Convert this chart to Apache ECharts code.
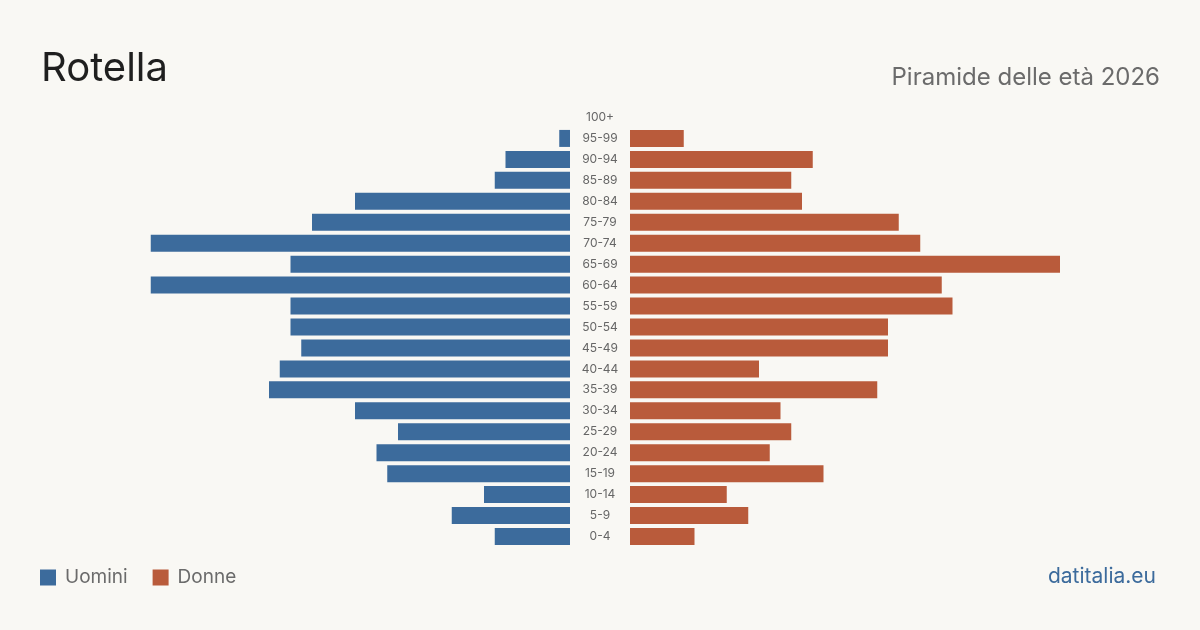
<!DOCTYPE html>
<html><head><meta charset="utf-8">
<script src="https://cdn.jsdelivr.net/npm/echarts@6/dist/echarts.min.js"></script>
<style>html,body{margin:0;padding:0;background:#f9f8f4}#c{width:1200px;height:630px}</style>
</head><body><div id="c"></div>
<script>
const categories = ['100+','95-99','90-94','85-89','80-84','75-79','70-74','65-69','60-64','55-59','50-54','45-49','40-44','35-39','30-34','25-29','20-24','15-19','10-14','5-9','0-4'];
const men   = [0,1,6,7,20,24,39,26,39,26,26,25,27,28,20,16,18,17,8,11,7];
const women = [0,5,17,15,16,25,27,40,29,30,24,24,12,23,14,15,13,18,9,11,6];
const axisMax = 40;
const BLUE = '#3c6b9c', RED = '#b95b3b';
const chart = echarts.init(document.getElementById('c'));
const font = 'Inter, "Noto Sans", sans-serif';
chart.setOption({
  backgroundColor: '#f9f8f4',
  animation: false,
  title: [
    {text: 'Rotella', left: 36, top: 44, textStyle: {fontFamily: font, fontSize: 40, fontWeight: 'normal', color: '#1f1f1f'}},
    {text: 'Piramide delle età 2026', right: 35, top: 61, textStyle: {fontFamily: font, fontSize: 24, fontWeight: 'normal', color: '#6b6b6b'}},
    {text: 'datitalia.eu', right: 39, top: 561, textStyle: {fontFamily: font, fontSize: 21, fontWeight: 'normal', color: '#3c6b9c'}}
  ],
  legend: {
    left: 35, top: 563, itemWidth: 16, itemHeight: 16, itemGap: 25, icon: 'rect',
    textStyle: {fontFamily: font, fontSize: 19, color: '#6b6b6b', padding: [0, 0, 0, 4]},
    data: ['Uomini', 'Donne']
  },
  grid: [
    {left: 140, width: 430, top: 107, height: 440},
    {left: 630, width: 430, top: 107, height: 440}
  ],
  xAxis: [
    {gridIndex: 0, type: 'value', max: axisMax, min: 0, inverse: true, show: false},
    {gridIndex: 1, type: 'value', max: axisMax, min: 0, show: false}
  ],
  yAxis: [
    {gridIndex: 0, type: 'category', data: categories, inverse: true, show: false},
    {gridIndex: 1, type: 'category', data: categories, inverse: true,
     axisLine: {show: false}, axisTick: {show: false},
     axisLabel: {margin: 30, align: 'center', fontFamily: font, fontSize: 12, color: '#666'}}
  ],
  series: [
    {name: 'Uomini', type: 'bar', xAxisIndex: 0, yAxisIndex: 0, data: men, barWidth: 17, itemStyle: {color: BLUE}},
    {name: 'Donne', type: 'bar', xAxisIndex: 1, yAxisIndex: 1, data: women, barWidth: 17, itemStyle: {color: RED}}
  ]
});
</script></body></html>
